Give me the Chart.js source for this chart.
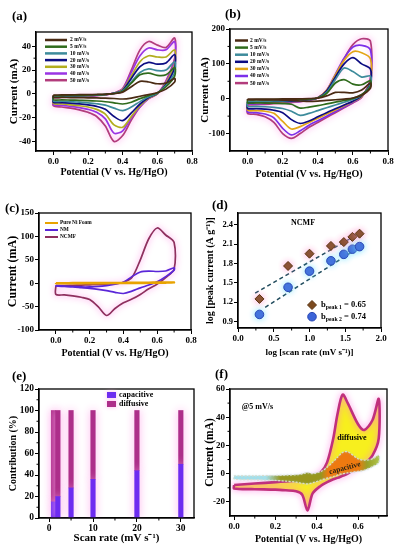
<!DOCTYPE html>
<html>
<head>
<meta charset="utf-8">
<title>CV panels</title>
<script src="https://cdn.jsdelivr.net/npm/chart.js@4.4.1/dist/chart.umd.min.js"></script>
<style>
  html, body { margin: 0; padding: 0; background: #fff; }
  #fig { position: relative; width: 397px; height: 550px; overflow: hidden; }
  #fig canvas { position: absolute; }
  .tag { position: absolute; font: bold 13px/13px "Liberation Serif", serif; color: #000; }
</style>
</head>
<body>
<div id="fig">
  <canvas id="pa"></canvas>
  <canvas id="pb"></canvas>
  <canvas id="pc"></canvas>
  <canvas id="pd"></canvas>
  <canvas id="pe"></canvas>
  <canvas id="pf"></canvas>
  <div class="tag" style="left:12px;top:9px">(a)</div>
  <div class="tag" style="left:225px;top:7px">(b)</div>
  <div class="tag" style="left:5px;top:201px">(c)</div>
  <div class="tag" style="left:212px;top:198px">(d)</div>
  <div class="tag" style="left:12px;top:369px">(e)</div>
  <div class="tag" style="left:215px;top:367px">(f)</div>
</div>
<script>
// ---------- data ----------
var rates = ["2 mV/s", "5 mV/s", "10 mV/s", "20 mV/s", "30 mV/s", "40 mV/s", "50 mV/s"];

// (a) potential (V) and current (mA), forward = anodic sweep, reverse = cathodic sweep
var aPotential = [0, 0.05, 0.1, 0.15, 0.2, 0.25, 0.3, 0.35, 0.4, 0.45, 0.5, 0.55, 0.6, 0.65, 0.7];
var aForward = [
  [-1, -0.9, -0.8, -0.7, -0.6, -0.5, -0.3, 0.2, 1.5, 6, 10.5, 10, 8.5, 9, 13],
  [-1.5, -1.4, -1.2, -1.1, -0.9, -0.7, -0.4, 0.3, 2, 9, 16, 17.5, 15.5, 16, 22],
  [-2, -1.8, -1.6, -1.4, -1.2, -0.9, -0.5, 0.4, 2.5, 10, 18, 21, 19.5, 20, 27],
  [-2, -1.9, -1.7, -1.5, -1.3, -1, -0.5, 0.5, 3, 13, 23, 26.5, 25, 26, 33],
  [-2.5, -2.3, -2, -1.8, -1.5, -1.1, -0.6, 0.5, 3.5, 15, 27, 32, 31, 31, 37],
  [-3, -2.8, -2.4, -2.1, -1.8, -1.3, -0.7, 0.6, 4, 18, 32, 38.5, 37, 37, 44],
  [-3, -2.8, -2.5, -2.2, -2, -1.4, -0.8, 0.7, 4.5, 20, 37, 44, 41, 39, 47]
];
var aReverse = [
  [-3, -3, -3.1, -3.2, -3.3, -3.4, -3.6, -3.9, -4.3, -3.5, -2, -0.5, 1, 4, 10],
  [-5, -5, -5.2, -5.4, -5.6, -6, -6.6, -7.5, -8.5, -7, -4, -1.5, 1, 6, 15],
  [-6, -6.2, -6.5, -7, -7.5, -8.3, -9.5, -12, -14, -11, -6.5, -2.5, 0.5, 7, 18],
  [-7, -7.3, -7.8, -8.4, -9.2, -10.5, -13, -19, -22.5, -16, -8.5, -3, 0.5, 8, 22],
  [-8, -8.5, -9.2, -10, -11, -13, -17, -26, -28, -19, -10, -3.5, 0, 9, 25],
  [-9, -9.6, -10.5, -11.5, -13, -15.5, -21, -33, -31, -20, -11, -4, 0, 10, 28],
  [-10, -11, -12, -13.5, -15.5, -19, -27, -40, -35, -22, -11, -4, 0, 11, 30]
];

// (b)
var bPotential = [0, 0.05, 0.1, 0.15, 0.2, 0.25, 0.3, 0.35, 0.4, 0.45, 0.5, 0.55, 0.6, 0.65, 0.7];
var bForward = [
  [-1, -1, -0.9, -0.8, -0.7, -0.6, -0.4, 0, 1.5, 8, 18, 18, 17, 25, 45],
  [-3, -2.8, -2.5, -2.2, -2, -1.7, -1.3, -0.5, 2, 15, 45, 55, 42, 40, 52],
  [-8, -7.5, -7, -6.5, -6, -5, -4, -2, 2, 18, 55, 88, 78, 62, 65],
  [-10, -9.5, -9, -8.5, -8, -7, -5.5, -3, 2, 22, 62, 100, 118, 100, 85],
  [-12, -11.5, -11, -10, -9, -8, -6, -3, 3, 24, 68, 110, 135, 132, 115],
  [-15, -14.5, -13.5, -12.5, -11, -9.5, -7.5, -4, 3, 24, 70, 116, 148, 153, 140],
  [-18, -17, -16, -14.5, -13, -11, -8.5, -4.5, 3, 22, 65, 115, 155, 172, 165]
];
var bReverse = [
  [-3, -3, -3.2, -3.5, -4, -5, -6.5, -8, -7, -5, -3, -1, 2, 10, 30],
  [-12, -12, -12.5, -13, -14, -16, -27, -24, -20, -15, -10, -5, 1, 12, 35],
  [-22, -22, -23, -25, -28, -36, -48, -42, -34, -26, -18, -10, -2, 10, 40],
  [-28, -28.5, -30, -33, -40, -60, -71, -64, -52, -40, -29, -18, -7, 8, 45],
  [-33, -34, -36, -42, -65, -87, -80, -68, -56, -44, -32, -20, -8, 6, 50],
  [-38, -40, -44, -55, -85, -104, -92, -76, -63, -50, -37, -24, -10, 5, 55],
  [-42, -45, -52, -68, -100, -114, -100, -82, -68, -54, -40, -26, -12, 4, 60]
];

// (c)
var cLabels = ["Pure Ni Foam", "NM", "NCMF"];
var cPotential = [0, 0.05, 0.1, 0.15, 0.2, 0.25, 0.3, 0.35, 0.4, 0.45, 0.5, 0.55, 0.6, 0.65, 0.7];
var cForward = [
  [0.3, 0.4, 0.5, 0.5, 0.6, 0.7, 0.8, 0.9, 1.0, 1.2, 1.3, 1.5, 1.6, 1.8, 2.0],
  [-5, -6, -7, -8, -8, -7, -5, -2, 2, 14, 24, 26, 25, 26, 33],
  [-5, -5, -4.5, -4, -3.5, -3, -2, -1, 2, 12, 50, 95, 118, 103, 87]
];
var cReverse = [
  [-0.5, -0.4, -0.4, -0.3, -0.3, -0.2, -0.2, -0.1, 0, 0.1, 0.2, 0.4, 0.6, 0.9, 1.5],
  [-6, -7, -8, -9.5, -11, -13, -16, -19.5, -22, -17, -10, -4, 3, 14, 28],
  [-24, -25, -27, -30, -35, -50, -69, -54, -42, -34, -24, -12, -2, 12, 30]
];

// (d) log peak current vs log scan rate
var logScanRate = [0.30, 0.70, 1.00, 1.30, 1.48, 1.60, 1.70];
var logPeak1 = [1.25, 1.76, 1.95, 2.07, 2.13, 2.21, 2.26];
var logPeak2 = [1.01, 1.43, 1.68, 1.84, 1.94, 2.02, 2.06];
var fit1X = [0.24, 1.72], fit1Y = [1.34, 2.28];
var fit2X = [0.38, 1.74], fit2Y = [1.12, 2.08];
var peakLabels = ["b_{peak 1} = 0.65", "b_{peak 2} = 0.74"];

// (e) contribution (%)
var scanRate = [1, 2, 5, 10, 20, 30];
var capacitive = [15, 20, 28, 36, 44, 50];
var diffusive = [85, 80, 72, 64, 56, 50];

// (f) 5 mV/s total and capacitive currents
var fPotential = [0, 0.1, 0.2, 0.25, 0.3, 0.33, 0.355, 0.38, 0.42, 0.45, 0.48, 0.5, 0.525, 0.55, 0.6, 0.63, 0.67, 0.7];
var fTotalFwd = [-8, -7, -6, -5.5, -5, -4, -3.5, -3, 1, 8, 25, 42, 56, 50, 35, 31, 38, 53];
var fTotalRev = [-10.5, -11, -11.3, -11.8, -12.5, -15, -26, -14, -8.5, -6, -4, -3, -1.5, 0, 5, 7, 13, 25];
var fCapFwd = [-1.5, -1.5, -1.3, -1.1, -0.8, -0.2, 0.8, 0, 1.5, 4.5, 8.5, 11.5, 15, 15.5, 10.5, 9.5, 10.5, 13];
var fCapRev = [-3.8, -4.3, -4.8, -5.3, -6, -6.8, -7.2, -6.5, -4.5, -3.2, -2, -1, 0, 0.5, 1.7, 2.5, 5, 8];

var aColors = ['#4a2b14', '#2f6b1c', '#3d8b9b', '#0c0c82', '#b2ad1e', '#9a34e4', '#b23c7c'];
var bColors = ['#4a2b14', '#2f6b1c', '#3d8b9b', '#0c0c82', '#e3a516', '#7c30ea', '#b23c7c'];
var cColors = ['#e8a300', '#5a26d8', '#8e305e'];

var serif = '"Liberation Serif", "Times New Roman", serif';

// ---------- helpers ----------
function loop(E, fwd, rev) {
  var pts = [];
  for (var i = 0; i < E.length; i++) pts.push({x: E[i], y: fwd[i]});
  for (var j = E.length - 1; j >= 0; j--) pts.push({x: E[j], y: rev[j]});
  pts.push({x: E[0], y: fwd[0]});
  return pts;
}

function xy(xs, ys) {
  return xs.map(function (v, i) { return {x: v, y: ys[i]}; });
}

function cvSets(E, fwd, rev, labels, colors) {
  return labels.map(function (l, i) {
    return {label: l, data: loop(E, fwd[i], rev[i]), showLine: true, borderColor: colors[i],
      backgroundColor: colors[i], borderWidth: 1.7, pointRadius: 0, tension: 0.3, fill: false};
  });
}

function linAxis(min, max, ticks, dec, title, tickSize, titleSize) {
  return {
    type: 'linear', min: min, max: max,
    afterBuildTicks: function (s) { s.ticks = ticks.map(function (v) { return {value: v}; }); },
    grid: {drawOnChartArea: false, drawTicks: true, tickLength: 4, color: '#000', lineWidth: 1, offset: false},
    border: {display: true, color: '#000', width: 1.3},
    ticks: {color: '#000', padding: 1, maxRotation: 0, autoSkip: false,
      font: {family: serif, size: tickSize, weight: 'bold'},
      callback: function (v) { return Number(v).toFixed(dec); }},
    title: {display: true, text: title, color: '#000', padding: 0,
      font: {family: serif, size: titleSize, weight: 'bold'}}
  };
}

// box around the plot area
var frame = {id: 'frame', afterDatasetsDraw: function (chart) {
  var a = chart.chartArea, ctx = chart.ctx;
  ctx.save(); ctx.strokeStyle = '#000'; ctx.lineWidth = 1.3;
  ctx.strokeRect(a.left, a.top, a.right - a.left, a.bottom - a.top);
  ctx.restore();
}};

// soft coloured halo on some datasets
var glow = {id: 'glow',
  beforeDatasetDraw: function (chart, args) {
    var ds = chart.data.datasets[args.index];
    if (!ds.glow) return;
    chart.ctx.save(); chart.ctx.shadowColor = ds.glow; chart.ctx.shadowBlur = ds.glowBlur || 5;
  },
  afterDatasetDraw: function (chart, args) {
    if (chart.data.datasets[args.index].glow) chart.ctx.restore();
  }
};

var minor = {id: 'minor', afterDatasetsDraw: function (chart, args, o) {
  var ctx = chart.ctx, a = chart.chartArea;
  ctx.save(); ctx.strokeStyle = '#000'; ctx.lineWidth = 1;
  (o.x || []).forEach(function (v) {
    var p = chart.scales.x.getPixelForValue(v);
    ctx.beginPath(); ctx.moveTo(p, a.bottom); ctx.lineTo(p, a.bottom + 2.5); ctx.stroke();
  });
  (o.y || []).forEach(function (v) {
    var p = chart.scales.y.getPixelForValue(v);
    ctx.beginPath(); ctx.moveTo(a.left, p); ctx.lineTo(a.left - 2.5, p); ctx.stroke();
  });
  ctx.restore();
}};

function richText(ctx, str, x, y, size) {
  var parts = str.split(/_\{([^}]*)\}/);
  parts.forEach(function (p, i) {
    var sub = i % 2 === 1;
    ctx.font = 'bold ' + (sub ? size * 0.68 : size) + 'px ' + serif;
    ctx.fillText(p, x, sub ? y + size * 0.28 : y);
    x += ctx.measureText(p).width;
  });
}

function marker(ctx, style, x, y, r) {
  ctx.beginPath();
  if (style === 'rectRot') {
    ctx.moveTo(x, y - r); ctx.lineTo(x + r, y); ctx.lineTo(x, y + r); ctx.lineTo(x - r, y); ctx.closePath();
  } else {
    ctx.arc(x, y, r, 0, Math.PI * 2);
  }
  ctx.fill(); ctx.stroke();
}

var insideLegend = {id: 'insideLegend', afterDatasetsDraw: function (chart, args, o) {
  if (!o.kind) return;
  var ctx = chart.ctx, a = chart.chartArea;
  ctx.save(); ctx.textBaseline = 'middle';
  o.show.forEach(function (di, k) {
    var ds = chart.data.datasets[di];
    var x = a.left + o.x, y = a.top + o.y + k * o.row;
    if (o.kind === 'line') {
      ctx.strokeStyle = ds.borderColor; ctx.lineWidth = o.lw;
      ctx.beginPath(); ctx.moveTo(x, y); ctx.lineTo(x + o.len, y); ctx.stroke();
    } else if (o.kind === 'box') {
      ctx.save(); ctx.shadowColor = 'rgba(255,170,235,0.9)'; ctx.shadowBlur = 4;
      ctx.fillStyle = ds.backgroundColor; ctx.fillRect(x, y - o.h / 2, o.len, o.h);
      ctx.restore();
    } else {
      ctx.fillStyle = ds.backgroundColor; ctx.strokeStyle = ds.borderColor; ctx.lineWidth = 1;
      marker(ctx, ds.pointStyle, x + o.len / 2, y, ds.pointRadius);
    }
    ctx.fillStyle = '#000';
    richText(ctx, ds.label, x + o.len + o.gap, y, o.size);
  });
  ctx.restore();
}};

var notes = {id: 'notes', afterDatasetsDraw: function (chart, args, o) {
  if (!o.items) return;
  var ctx = chart.ctx;
  o.items.forEach(function (n) {
    ctx.save();
    ctx.translate(chart.scales.x.getPixelForValue(n.x), chart.scales.y.getPixelForValue(n.y));
    ctx.rotate((n.rot || 0) * Math.PI / 180);
    ctx.font = 'bold ' + n.size + 'px ' + serif;
    ctx.fillStyle = n.color || '#000'; ctx.textAlign = n.align || 'center'; ctx.textBaseline = 'middle';
    ctx.fillText(n.text, 0, 0);
    ctx.restore();
  });
}};

// box = canvas [left, top, w, h]; area = plot area [l, t, r, b] on the page
function panel(id, box, area, yTitleX, xTitleY, cfg) {
  var cv = document.getElementById(id);
  cv.style.left = box[0] + 'px'; cv.style.top = box[1] + 'px';
  cv.style.width = box[2] + 'px'; cv.style.height = box[3] + 'px';
  cv.width = box[2]; cv.height = box[3];
  var sx = cfg.options.scales.x, sy = cfg.options.scales.y;
  var yh = sy.title.font.size * 1.2, xh = sx.title.font.size * 1.2;
  sy.title.padding = {top: yTitleX - box[0] - yh / 2, bottom: 0};
  sx.title.padding = {top: 0, bottom: box[1] + box[3] - xTitleY - xh / 2};
  sy.afterFit = function (s) { s.width = area[0] - box[0]; };
  sx.afterFit = function (s) { s.height = box[1] + box[3] - area[3]; };
  cfg.options.layout = {padding: {left: 0, top: area[1] - box[1], right: box[0] + box[2] - area[2], bottom: 0}};
  cfg.options.responsive = false;
  cfg.options.animation = false;
  cfg.options.events = [];
  cfg.options.plugins.legend = {display: false};
  cfg.options.plugins.tooltip = {enabled: false};
  cfg.plugins = [frame, glow, minor, insideLegend, notes];
  return new Chart(cv, cfg);
}

// ---------- (a) ----------
var aSets = cvSets(aPotential, aForward, aReverse, rates, aColors);
aSets[6].glow = 'rgba(255,120,225,0.9)'; aSets[6].glowBlur = 6;
panel('pa', [0, 0, 200, 185], [36, 32, 192, 151], 14, 172, {
  type: 'scatter',
  data: {datasets: aSets},
  options: {
    scales: {
      x: linAxis(-0.1, 0.8, [0, 0.2, 0.4, 0.6, 0.8], 1, 'Potential (V vs. Hg/HgO)', 9, 10),
      y: linAxis(-48, 52, [-40, -20, 0, 20, 40], 0, 'Current (mA)', 9, 11)
    },
    plugins: {
      insideLegend: {kind: 'line', show: [0, 1, 2, 3, 4, 5, 6], x: 9, y: 8, row: 6.7, len: 22, gap: 3, lw: 2.5, size: 5.5},
      minor: {x: [0.1, 0.3, 0.5, 0.7], y: [-30, -10, 10, 30]}
    }
  }
});

// ---------- (b) ----------
var bSets = cvSets(bPotential, bForward, bReverse, rates, bColors);
bSets[6].glow = 'rgba(255,120,225,0.9)'; bSets[6].glowBlur = 6;
panel('pb', [198, 0, 199, 185], [230, 29, 388, 151], 205, 174, {
  type: 'scatter',
  data: {datasets: bSets},
  options: {
    scales: {
      x: linAxis(-0.1, 0.8, [0, 0.2, 0.4, 0.6, 0.8], 1, 'Potential (V vs. Hg/HgO)', 9, 10),
      y: linAxis(-150, 200, [-100, 0, 100, 200], 0, 'Current (mA)', 9, 11)
    },
    plugins: {
      insideLegend: {kind: 'line', show: [0, 1, 2, 3, 4, 5, 6], x: 5, y: 11.5, row: 7.1, len: 13, gap: 2, lw: 2.5, size: 5.5},
      minor: {x: [0.1, 0.3, 0.5, 0.7], y: [-50, 50, 150]}
    }
  }
});

// ---------- (c) ----------
var cSets = cvSets(cPotential, cForward, cReverse, cLabels, cColors);
cSets[0].borderWidth = 2.2;
cSets[2].glow = 'rgba(255,120,225,0.9)'; cSets[2].glowBlur = 6;
panel('pc', [0, 186, 200, 180], [39, 213, 191, 330], 13, 353, {
  type: 'scatter',
  data: {datasets: cSets},
  options: {
    scales: {
      x: linAxis(-0.1, 0.8, [0, 0.2, 0.4, 0.6, 0.8], 1, 'Potential (V vs. Hg/HgO)', 9, 10),
      y: linAxis(-100, 150, [-100, -50, 0, 50, 100, 150], 0, 'Current (mA)', 9, 12)
    },
    plugins: {
      insideLegend: {kind: 'line', show: [0, 1, 2], x: 6, y: 10, row: 7, len: 13, gap: 2, lw: 2, size: 5.3},
      minor: {x: [0.1, 0.3, 0.5, 0.7]}
    }
  }
});

// ---------- (d) ----------
panel('pd', [198, 186, 199, 180], [238, 213, 381, 328], 210, 353, {
  type: 'scatter',
  data: {datasets: [
    {label: peakLabels[0], data: xy(logScanRate, logPeak1), pointStyle: 'rectRot', pointRadius: 4.5,
      backgroundColor: '#7b4a1f', borderColor: '#5a3412', borderWidth: 1, glow: 'rgba(255,150,205,0.9)', glowBlur: 6},
    {label: peakLabels[1], data: xy(logScanRate, logPeak2), pointStyle: 'circle', pointRadius: 4.3,
      backgroundColor: '#3c64d8', borderColor: '#2a48b4', borderWidth: 1, glow: 'rgba(120,225,255,0.9)', glowBlur: 6},
    {label: 'fit 1', data: xy(fit1X, fit1Y), showLine: true, pointRadius: 0, borderColor: '#1f4a5c',
      borderWidth: 1.5, borderDash: [4, 3]},
    {label: 'fit 2', data: xy(fit2X, fit2Y), showLine: true, pointRadius: 0, borderColor: '#1f4a5c',
      borderWidth: 1.5, borderDash: [4, 3]}
  ]},
  options: {
    scales: {
      x: linAxis(0, 2, [0, 0.5, 1, 1.5, 2], 1, 'log [scan rate (mV s\u207B\u00B9)]', 9, 9),
      y: linAxis(0.8, 2.58, [0.9, 1.2, 1.5, 1.8, 2.1, 2.4], 1, 'log [peak current (A g\u207B\u00B9)]', 8.5, 10)
    },
    plugins: {
      insideLegend: {kind: 'point', show: [0, 1], x: 70, y: 92, row: 11.7, len: 8, gap: 5, size: 8.5},
      minor: {x: [0.25, 0.75, 1.25, 1.75]},
      notes: {items: [{text: 'NCMF', x: 0.91, y: 2.43, size: 8}]}
    }
  }
});

// ---------- (e) ----------
var eX = linAxis(-2.3, 33, [0, 10, 20, 30], 0, 'Scan rate (mV s\u207B\u00B9)', 9.5, 11);
eX.stacked = true; eX.offset = false;
var eY = linAxis(0, 120, [0, 20, 40, 60, 80, 100, 120], 0, 'Contribution (%)', 9.5, 10);
eY.stacked = true;
panel('pe', [0, 368, 200, 182], [39, 389, 194, 518], 13, 538, {
  type: 'bar',
  data: {datasets: [
    {label: 'capacitive', data: xy(scanRate, capacitive), backgroundColor: '#6d2cf0', barThickness: 4.5,
      glow: 'rgba(255,170,235,0.95)', glowBlur: 8},
    {label: 'diffusive', data: xy(scanRate, diffusive), backgroundColor: '#ad2f8a', barThickness: 4.5,
      glow: 'rgba(255,170,235,0.95)', glowBlur: 8}
  ]},
  options: {
    scales: {x: eX, y: eY},
    plugins: {
      insideLegend: {kind: 'box', show: [0, 1], x: 68, y: 6, row: 9, len: 9, h: 6, gap: 3, size: 8},
      minor: {x: [5, 15, 25], y: [10, 30, 50, 70, 90, 110]}
    }
  }
});

// ---------- (f) ----------
function capFill(c) {
  var ch = c.chart;
  if (!ch.chartArea) return '#a3a02c';
  var sx = ch.scales.x;
  var g = ch.ctx.createLinearGradient(sx.getPixelForValue(0), 0, sx.getPixelForValue(0.7), 0);
  g.addColorStop(0, '#a6dfe9'); g.addColorStop(0.22, '#a6dfe9');
  g.addColorStop(0.32, '#98961e'); g.addColorStop(0.6, '#98961e');
  g.addColorStop(0.65, '#ee7a10'); g.addColorStop(0.86, '#ee7a10');
  g.addColorStop(0.92, '#98a028'); g.addColorStop(1, '#b0c244');
  return g;
}
panel('pf', [198, 368, 199, 182], [230, 389, 387, 516], 210, 539, {
  type: 'scatter',
  data: {datasets: [
    {label: 'capacitive', data: loop(fPotential, fCapFwd, fCapRev), showLine: true, pointRadius: 0, tension: 0.3,
      fill: 'shape', backgroundColor: capFill, borderColor: '#dcdccc', borderWidth: 1.2, borderDash: [2, 1.5],
      glow: 'rgba(140,225,245,0.6)', glowBlur: 2, order: 1},
    {label: 'total', data: loop(fPotential, fTotalFwd, fTotalRev), showLine: true, pointRadius: 0, tension: 0.3,
      fill: 'shape', backgroundColor: '#f7ef1e', borderColor: '#c0307c', borderWidth: 2.6,
      glow: 'rgba(255,120,225,0.9)', glowBlur: 6, order: 2}
  ]},
  options: {
    scales: {
      x: linAxis(-0.02, 0.74, [0, 0.2, 0.4, 0.6], 1, 'Potential (V vs. Hg/HgO)', 9, 10),
      y: linAxis(-30, 60, [-20, 0, 20, 40, 60], 0, 'Current (mA)', 9, 11.5)
    },
    plugins: {
      minor: {x: [0.1, 0.3, 0.5, 0.7], y: [-10, 10, 30, 50]},
      notes: {items: [
        {text: '@5 mV/s', x: 0.037, y: 47, size: 8, align: 'left'},
        {text: 'diffusive', x: 0.57, y: 25.5, size: 8},
        {text: 'capacitive', x: 0.536, y: 3.9, size: 7.5, rot: -15, color: '#2a2414'}
      ]}
    }
  }
});
</script>
</body>
</html>
